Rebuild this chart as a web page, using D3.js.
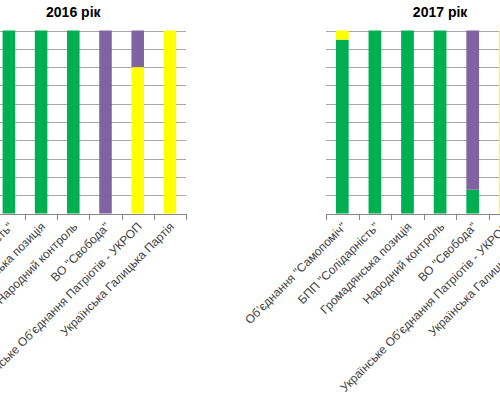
<!DOCTYPE html>
<html><head><meta charset="utf-8">
<script src="https://cdn.jsdelivr.net/npm/d3@7"></script>
<style>body{margin:0;background:#fff;}svg{display:block;}</style>
</head><body>
<svg id="c" width="500" height="400"></svg>
<script>
const categories = ['Об’єднання "Самопоміч"', 'БПП "Солідарність"', 'Громадянська позиція', 'Народний контроль', 'ВО "Свобода"', 'Українське Об’єднання Патріотів - УКРОП', 'Українська Галицька Партія'];
const titles = ['2016 рік', '2017 рік'];
const green2016  = [100, 100, 100, 100, 0, 0, 0];
const yellow2016 = [0, 0, 0, 0, 0, 80, 100];
const purple2016 = [0, 0, 0, 0, 100, 20, 0];
const green2017  = [95, 100, 100, 100, 13, 0, 0];
const yellow2017 = [5, 0, 0, 0, 0, 100, 100];
const purple2017 = [0, 0, 0, 0, 87, 0, 0];
const yTicks = [0, 10, 20, 30, 40, 50, 60, 70, 80, 90, 100];

const seriesKeys = ['green', 'yellow', 'purple'];
const colors = {green: '#00b050', yellow: '#ffff00', purple: '#8064a2'};

const panels = [
  {title: titles[0], x0: -39.4, x1: 186, data: {green: green2016, yellow: yellow2016, purple: purple2016}},
  {title: titles[1], x0: 326, x1: 554.2, data: {green: green2017, yellow: yellow2017, purple: purple2017}}
];

const svg = d3.select('#c');
const y = d3.scaleLinear().domain([0, 100]).range([213.5, 30.5]);

panels.forEach(p => {
  const g = svg.append('g');
  const x = d3.scaleBand().domain(categories).range([p.x0, p.x1]).padding(0);
  const step = x.step();
  const bw = step * 0.39;

  // gridlines
  g.selectAll('line.grid').data(yTicks.slice(1)).enter().append('line')
    .attr('x1', p.x0).attr('x2', p.x1)
    .attr('y1', d => Math.round(y(d)) + 0.5).attr('y2', d => Math.round(y(d)) + 0.5)
    .attr('stroke', '#a6a6a6').attr('stroke-width', 1);

  // stacked bars
  const rows = categories.map((c, i) => {
    const r = {cat: c};
    seriesKeys.forEach(k => r[k] = p.data[k][i]);
    return r;
  });
  const stack = d3.stack().keys(seriesKeys)(rows);
  stack.forEach(s => {
    g.selectAll(null).data(s).enter().append('rect')
      .attr('x', d => x(d.data.cat) + (step - bw) / 2)
      .attr('width', bw)
      .attr('y', d => y(d[1]))
      .attr('height', d => y(d[0]) - y(d[1]))
      .attr('fill', colors[s.key]);
  });

  // axis line
  g.append('line').attr('x1', p.x0).attr('x2', p.x1)
    .attr('y1', Math.round(y(0)) + 0.5).attr('y2', Math.round(y(0)) + 0.5)
    .attr('stroke', '#868686');
  // ticks at category boundaries
  const bounds = categories.map(c => x(c)).concat([p.x1]);
  g.selectAll('line.tick').data(bounds).enter().append('line')
    .attr('x1', d => Math.round(d) + 0.5).attr('x2', d => Math.round(d) + 0.5)
    .attr('y1', Math.round(y(0))).attr('y2', Math.round(y(0)) + 6)
    .attr('stroke', '#868686');

  // labels
  g.selectAll('text.lab').data(categories).enter().append('text')
    .attr('transform', d => `translate(${x(d) + step / 2 + 2},${y(0) + 11}) rotate(-45)`)
    .attr('text-anchor', 'end')
    .attr('dy', '0.35em')
    .attr('font-family', 'Liberation Sans, Arial, sans-serif')
    .attr('font-size', 12)
    .attr('fill', '#404040')
    .text(d => d);

  // title
  g.append('text')
    .attr('x', (p.x0 + p.x1) / 2).attr('y', 17)
    .attr('text-anchor', 'middle')
    .attr('font-family', 'Liberation Sans, Arial, sans-serif')
    .attr('font-size', 14).attr('font-weight', 'bold')
    .attr('fill', '#000')
    .text(p.title);
});
</script>
</body></html>
